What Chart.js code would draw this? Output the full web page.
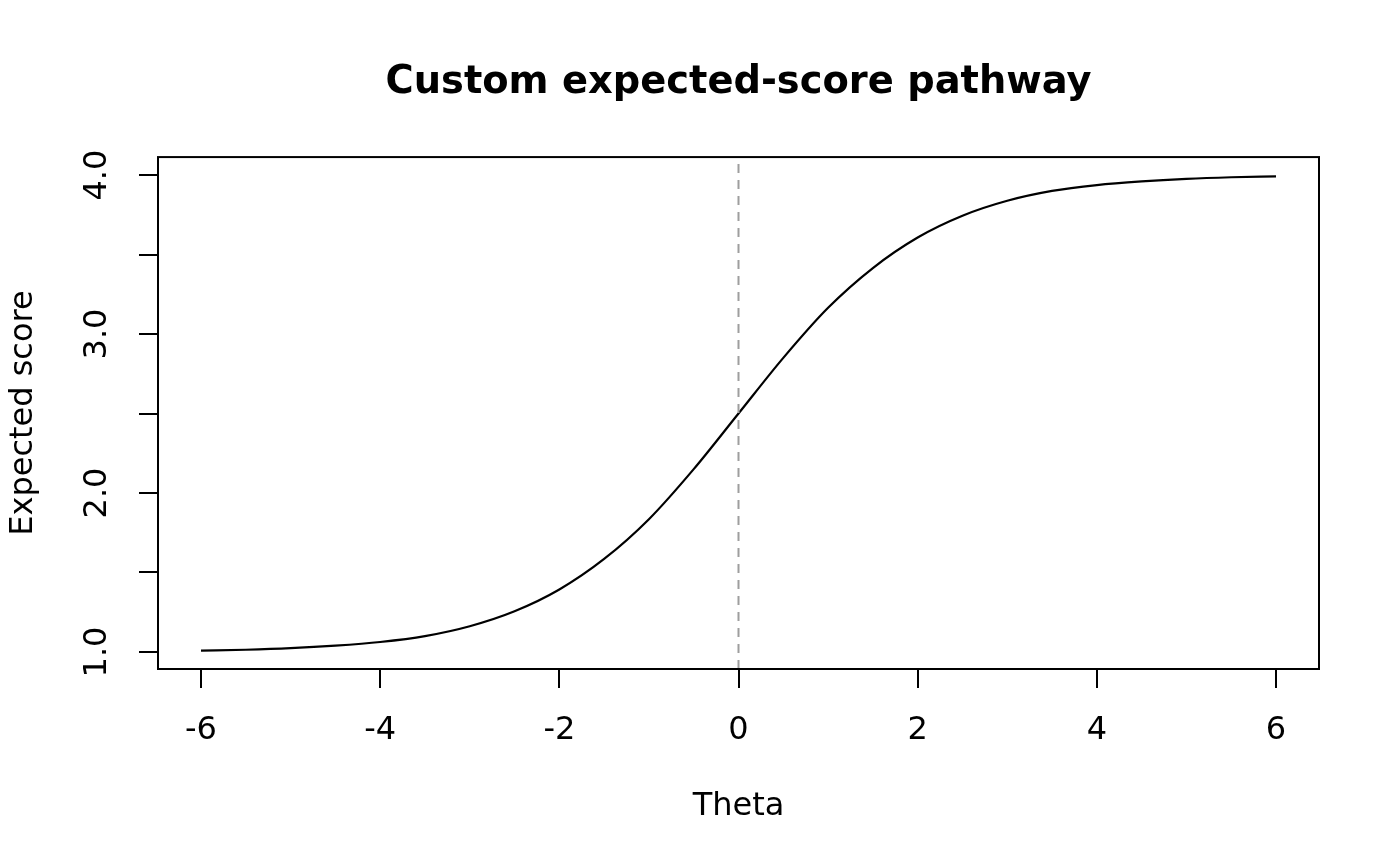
<!DOCTYPE html>
<html>
<head>
<meta charset="utf-8">
<script src="https://cdn.jsdelivr.net/npm/chart.js@4/dist/chart.umd.min.js"></script>
<style>
  html, body { margin: 0; padding: 0; background: #fff; }
  canvas { display: block; }
</style>
</head>
<body>
<canvas id="chart" width="1400" height="866"></canvas>
<script>
// values
const theta = [-6, -5.5, -5, -4.5, -4, -3.5, -3, -2.5, -2, -1.5, -1, -0.5, 0,
               0.5, 1, 1.5, 2, 2.5, 3, 3.5, 4, 4.5, 5, 5.5, 6];
const expectedScore = [1.008, 1.014, 1.024, 1.040, 1.063, 1.100, 1.162, 1.256, 1.393, 1.585, 1.835, 2.150, 2.500,
                       2.850, 3.165, 3.415, 3.607, 3.744, 3.838, 3.900, 3.937, 3.960, 3.976, 3.986, 3.992];
const xTicks = [-6, -4, -2, 0, 2, 4, 6];
const yTicks = [1.0, 1.5, 2.0, 2.5, 3.0, 3.5, 4.0];
const refTheta = 0;

// axis limits (R style 4% extension)
const xMin = -6.48, xMax = 6.48;
const yMin = 0.893, yMax = 4.113;

Chart.defaults.font.family = "'DejaVu Sans', sans-serif";
Chart.defaults.color = '#000';

// box round the plot region
const frame = {
  id: 'frame',
  afterDraw(chart) {
    const a = chart.chartArea;
    const ctx = chart.ctx;
    ctx.save();
    ctx.strokeStyle = '#000';
    ctx.lineWidth = 2;
    ctx.strokeRect(a.left, a.top, a.right - a.left, a.bottom - a.top);
    ctx.restore();
  }
};

new Chart(document.getElementById('chart'), {
  type: 'line',
  data: {
    datasets: [
      {
        label: 'ref',
        data: [{ x: refTheta, y: yMin }, { x: refTheta, y: yMax }],
        borderColor: '#9e9e9e',
        borderWidth: 2,
        borderDash: [9, 7],
        pointRadius: 0
      },
      {
        label: 'Expected score',
        data: theta.map((t, i) => ({ x: t, y: expectedScore[i] })),
        borderColor: '#000',
        borderWidth: 2.2,
        pointRadius: 0,
        cubicInterpolationMode: 'monotone'
      }
    ]
  },
  options: {
    responsive: false,
    animation: false,
    devicePixelRatio: 1,
    layout: { padding: { left: 0, right: 81, top: 0, bottom: 0 } },
    plugins: {
      legend: { display: false },
      tooltip: { enabled: false },
      title: {
        display: true,
        fullSize: false, // centre over the plot region like R does
        text: 'Custom expected-score pathway',
        font: { size: 38.4, weight: 'bold' },
        color: '#000',
        padding: { top: 60, bottom: 51 }
      }
    },
    scales: {
      x: {
        type: 'linear',
        min: xMin,
        max: xMax,
        afterBuildTicks: s => { s.ticks = xTicks.map(v => ({ value: v })); },
        afterFit: s => { s.height = 197; },
        border: { display: false },
        grid: { drawOnChartArea: false, drawTicks: true, tickLength: 19, color: '#000', lineWidth: 2 },
        ticks: { autoSkip: false, maxRotation: 0, padding: 23, font: { size: 32 }, color: '#000' },
        title: { display: true, text: 'Theta', font: { size: 32 }, color: '#000', padding: { top: 0, bottom: 40 } }
      },
      y: {
        type: 'linear',
        min: yMin,
        max: yMax,
        afterBuildTicks: s => { s.ticks = yTicks.map(v => ({ value: v })); },
        afterFit: s => { s.width = 158; },
        border: { display: false },
        grid: { drawOnChartArea: false, drawTicks: true, tickLength: 19, color: '#000', lineWidth: 2 },
        ticks: {
          autoSkip: false,
          minRotation: 90,
          maxRotation: 90,
          crossAlign: 'center',
          padding: 16,
          font: { size: 32 },
          color: '#000',
          callback: v => (Number.isInteger(v) ? v.toFixed(1) : '')
        },
        title: { display: true, text: 'Expected score', font: { size: 32 }, color: '#000', padding: { top: 4, bottom: 0 } }
      }
    }
  },
  plugins: [frame]
});
</script>
</body>
</html>
